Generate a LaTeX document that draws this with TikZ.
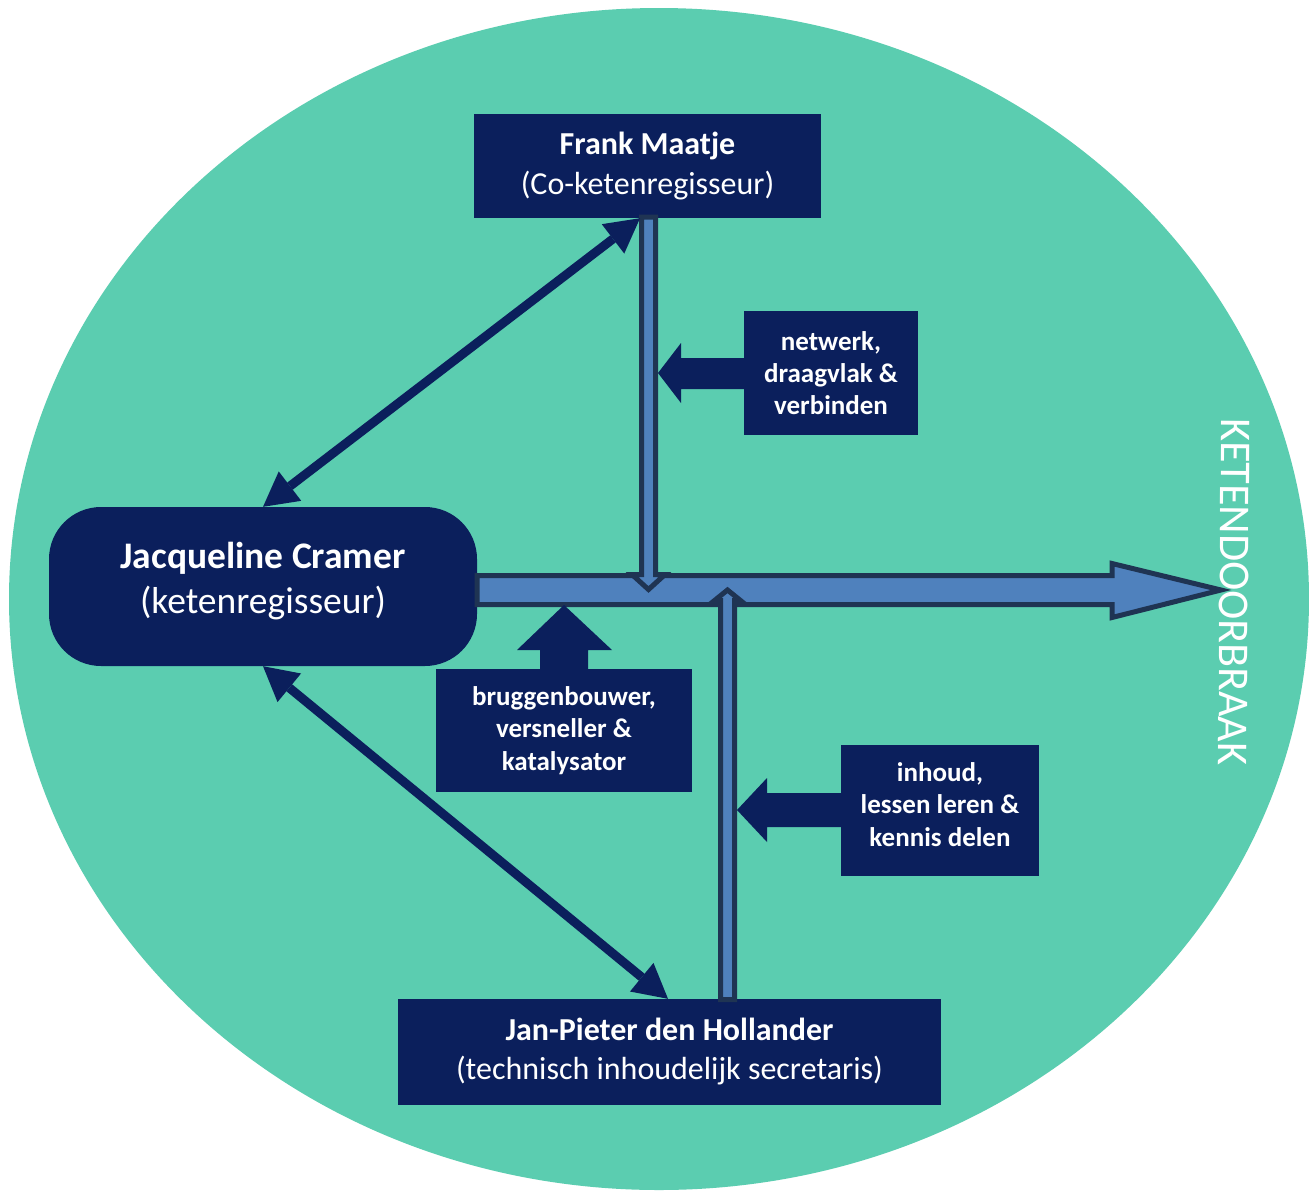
\documentclass[tikz,border=0pt]{standalone}
\usepackage{fontspec}
\setmainfont{Carlito}
\usetikzlibrary{arrows.meta}
\definecolor{teal1}{HTML}{5BCDB0}
\definecolor{navy}{HTML}{0B1F5C}
\definecolor{blu}{HTML}{4F81BD}
\definecolor{edge}{HTML}{1F3453}
\newcommand{\lift}[2]{\raisebox{#1}[\height][\depth]{\begin{tabular}{@{}c@{}}#2\end{tabular}}}
\begin{document}
\begin{tikzpicture}[x=1pt,y=-1pt,
  box/.style={fill=navy,text=white,inner sep=0pt,align=center},
  dbl/.style={draw=navy,line width=9pt,{Triangle[length=34pt,width=37pt,line width=0pt]}-{Triangle[length=34pt,width=37pt,line width=0pt]}},
  barrow/.style={fill=blu,draw=edge,line width=5pt,line join=miter},
  blk/.style={fill=navy}]
\useasboundingbox[fill=white] (0,0) rectangle (1309,1191);
\fill[teal1] (659,599) ellipse [x radius=650pt, y radius=591pt];

% boxes
\node[box,minimum width=347pt,minimum height=104pt,font=\fontsize{32}{40}\selectfont] (frank) at (647.5,166)
  {\textbf{Frank Maatje}\\(Co-ketenregisseur)};
\node[box,rounded corners=52pt,minimum width=428pt,minimum height=159pt,font=\fontsize{37.5}{45}\selectfont] (jc) at (263,586.5)
  {\lift{4.5pt}{\textbf{Jacqueline Cramer}\\(ketenregisseur)}};
\node[box,minimum width=543pt,minimum height=106pt,font=\fontsize{32}{39}\selectfont] (jp) at (669.5,1052)
  {\textbf{Jan-Pieter den Hollander}\\(technisch inhoudelijk secretaris)};
\node[box,minimum width=174pt,minimum height=124pt,font=\bfseries\fontsize{27}{32}\selectfont] (nw) at (831,373)
  {netwerk,\\draagvlak \&\\verbinden};
\node[box,minimum width=256pt,minimum height=123pt,font=\bfseries\fontsize{27}{32.5}\selectfont] (bb) at (564,730.5)
  {bruggenbouwer,\\versneller \&\\katalysator};
\node[box,minimum width=198pt,minimum height=131pt,font=\bfseries\fontsize{27}{32.5}\selectfont] (ih) at (940,810.5)
  {\lift{3.5pt}{inhoud,\\lessen leren \&\\kennis delen}};
\node[text=white,inner sep=0pt,rotate=-90.5,font=\fontsize{44}{50}\selectfont] (kd) at (1234,592) {KETENDOORBRAAK};

% main horizontal arrow
\draw[barrow] (477,575.5) -- (1112,575.5) -- (1112,563.5) -- (1221,590) -- (1112,617.5) -- (1112,604.5) -- (477,604.5) -- cycle;
% down arrow from Frank
\draw[barrow] (641.5,217) -- (641.5,574.5) -- (632,574.5) -- (648.5,589.5) -- (665,574.5) -- (655.5,574.5) -- (655.5,217) -- cycle;
% up arrow from Jan-Pieter
\draw[barrow] (720.5,999.5) -- (720.5,600.5) -- (714.5,600.5) -- (727.5,590) -- (740.5,600.5) -- (734.5,600.5) -- (734.5,999.5) -- cycle;

% block arrows
\fill[blk] (750,358) -- (681,358) -- (681,343) -- (658,373) -- (681,403) -- (681,389) -- (750,389) -- cycle;
\fill[blk] (540,675) -- (540,650) -- (517,650) -- (564,605) -- (612,650) -- (588,650) -- (588,675) -- cycle;
\fill[blk] (847,793) -- (767,793) -- (767,778) -- (737,810) -- (767,842) -- (767,827) -- (847,827) -- cycle;

% double arrows
\draw[dbl] (jc.north) -- ([xshift=-7.5pt]frank.south);
\draw[dbl] (jc.south) -- ([xshift=-1.5pt]jp.north);
\end{tikzpicture}
\end{document}
